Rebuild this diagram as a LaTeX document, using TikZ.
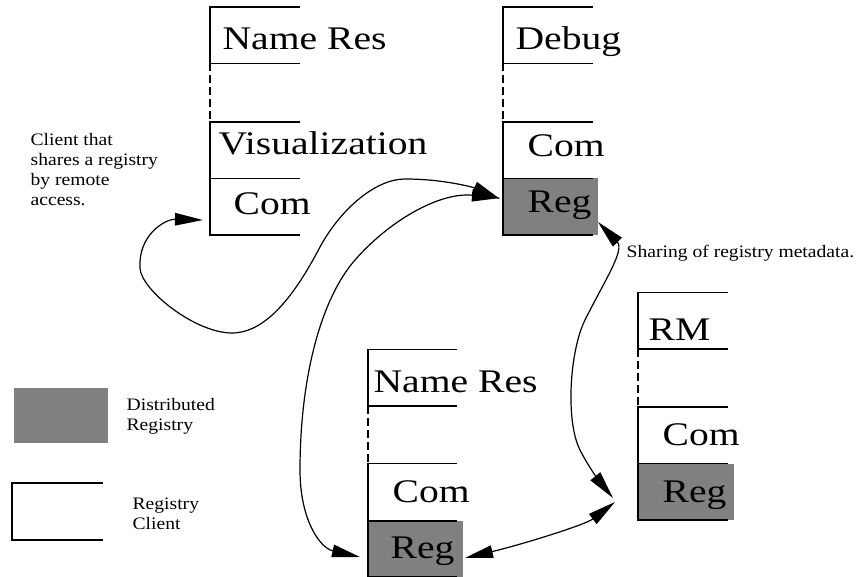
\documentclass[tikz,border=0pt]{standalone}
\usepackage{fontspec}
\setmainfont[FakeStretch=1.2]{Liberation Serif}
\newfontfamily\notefont[FakeStretch=1.12]{Liberation Serif}
\usetikzlibrary{arrows.meta}
\definecolor{regfill}{HTML}{808080}
\begin{document}
\begin{tikzpicture}[x=1pt,y=-1pt,line width=1.3pt,
  blk/.style={minimum width=90pt, minimum height=56.5pt, inner sep=0pt, outer sep=0pt, anchor=north west},
  regblk/.style={blk, fill=regfill, minimum width=95pt},
  big/.style={font=\fontsize{33}{40}\selectfont, inner sep=0pt, anchor=base west},
  small/.style={font=\notefont\fontsize{17.5}{20}\selectfont, inner sep=0pt, align=left, anchor=north west},
  smallone/.style={font=\notefont\fontsize{17.5}{20}\selectfont, inner sep=0pt, anchor=base west},
  dashlink/.style={line width=1.3pt, dash pattern=on 8pt off 4pt},
  conn/.style={line width=1.2pt, {Triangle[length=28pt,width=12.5pt]}-{Triangle[length=28pt,width=12.5pt]}}]
\useasboundingbox (0,0) rectangle (862,577);

% ---------- stack top left ----------
\node[blk] (nr1) at (210,7) {};
\node[blk] (vis) at (210,122) {};
\node[blk] (com1) at (210,178.5) {};
\draw (nr1.north east) -- (nr1.north west) -- (nr1.south west) -- (nr1.south east);
\draw[dashlink] (nr1.south west) -- (vis.north west);
\draw (vis.north east) -- (vis.north west) -- (vis.south west) -- (vis.south east);
\draw (com1.north east) -- (com1.north west) -- (com1.south west) -- (com1.south east);
\node[big] (tnr1) at (222,50) {Name Res};
\node[big] (tvis) at (218,155) {Visualization};
\node[big] (tcom1) at (233,215) {Com};

% ---------- stack Debug ----------
\node[blk] (dbg) at (503,7) {};
\node[blk] (com2) at (503,122) {};
\node[regblk] (reg2) at (503,178.5) {};
\draw (dbg.north east) -- (dbg.north west) -- (dbg.south west) -- (dbg.south east);
\draw[dashlink] (dbg.south west) -- (com2.north west);
\draw (com2.north east) -- (com2.north west) -- (com2.south west) -- (com2.south east);
\draw ([xshift=-5pt]reg2.south east) -- (reg2.south west) -- (reg2.north west);
\node[big] (tdbg) at (515,50) {Debug};
\node[big] (tcom2) at (527,157) {Com};
\node[big] (treg2) at (527,213) {Reg};

% ---------- stack RM ----------
\node[blk] (rm) at (638,292.5) {};
\node[blk] (com3) at (638,407) {};
\node[regblk, minimum width=96pt] (reg3) at (638,463.5) {};
\draw (rm.north east) -- (rm.north west) -- (rm.south west) -- (rm.south east);
\draw[dashlink] (rm.south west) -- (com3.north west);
\draw (com3.north east) -- (com3.north west) -- (com3.south west) -- (com3.south east);
\draw ([xshift=-6pt]reg3.south east) -- (reg3.south west) -- (reg3.north west);
\node[big] (trm) at (648,340) {RM};
\node[big] (tcom3) at (662,445) {Com};
\node[big] (treg3) at (662,502) {Reg};

% ---------- stack bottom ----------
\node[blk, minimum width=89pt] (nr4) at (368,349.5) {};
\node[blk, minimum width=89pt, minimum height=57.5pt] (com4) at (368,463.5) {};
\node[regblk, minimum height=55.5pt] (reg4) at (368,521) {};
\draw (nr4.north east) -- (nr4.north west) -- (nr4.south west) -- (nr4.south east);
\draw[dashlink] (nr4.south west) -- (com4.north west);
\draw (com4.north east) -- (com4.north west) -- (com4.south west) -- (com4.south east);
\draw ([xshift=-6pt]reg4.south east) -- (reg4.south west) -- (reg4.north west);
\node[big] (tnr4) at (373,392) {Name Res};
\node[big] (tcom4) at (392,502) {Com};
\node[big] (treg4) at (390,558) {Reg};

% ---------- legend ----------
\node[blk, fill=regfill, minimum width=94pt, minimum height=55pt] (lgreg) at (14,388) {};
\node[blk, minimum width=91pt, minimum height=57pt] (lgcli) at (12,483) {};
\draw (lgcli.north east) -- (lgcli.north west) -- (lgcli.south west) -- (lgcli.south east);
\node[small] (tlgreg) at (126,397.5) {Distributed\\Registry};
\node[small] (tlgcli) at (132,497.5) {Registry\\Client};

% ---------- notes ----------
\node[small] (tclient) at (30,132.5) {Client that\\shares a registry\\by remote\\access.};
\node[smallone] (tshare) at (626,258) {Sharing of registry metadata.};

% ---------- connectors ----------
\coordinate (aL) at (203,220);
\coordinate (aR) at (500,199);
\coordinate (bT) at (500,198);
\coordinate (bB) at (360,557);
\coordinate (cL) at (465,558);
\coordinate (cR) at (615,502);
\coordinate (dT) at (598,222);
\coordinate (dB) at (613,498);

\draw[conn] (aL) .. controls (165,219) and (138,235) .. (140,268)
  .. controls (141,290) and (195,333) .. (232,333)
  .. controls (270,333) and (300,285) .. (320,247)
  .. controls (340,210) and (375,179) .. (405,179)
  .. controls (445,179) and (475,188) .. (aR);
\draw[conn] (bB) .. controls (320,548) and (300,520) .. (300,470)
  .. controls (300,380) and (320,300) .. (355,260)
  .. controls (390,220) and (440,192) .. (bT);
\draw[conn] (cL) .. controls (520,545) and (585,525) .. (cR);
\draw[conn] (dT) .. controls (625,250) and (605,280) .. (585,320)
  .. controls (570,350) and (565,420) .. (580,450)
  .. controls (588,466) and (600,482) .. (dB);
\end{tikzpicture}
\end{document}
